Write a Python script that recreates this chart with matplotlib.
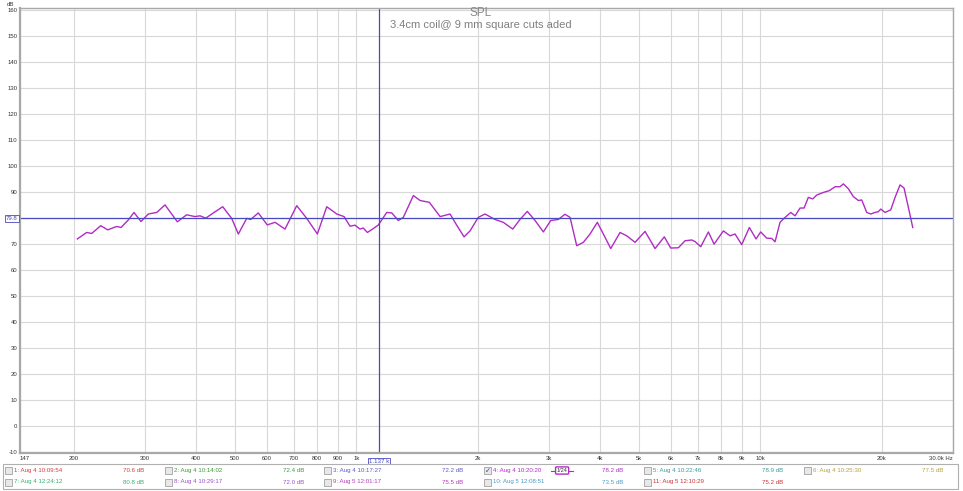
import matplotlib
matplotlib.use("Agg")
import matplotlib.pyplot as plt
from matplotlib.patches import Rectangle

# Datos: respuesta SPL
freq_hz = [203.8, 215, 221.2, 232.9, 242.3, 255.1, 261.5, 272.5, 281.5, 293.0,
           305.5, 320.5, 336, 360.5, 380.2, 398.6, 410.2, 423.8, 444.3, 466.9,
           491.4, 510.3, 535.3, 547.6, 571.8, 601.9, 629, 665.9, 711.9, 753.8,
           800.8, 844.8, 894.4, 932.4, 964.7, 992.4, 1021, 1040, 1065, 1102,
           1134, 1189, 1224, 1270, 1307, 1384, 1438, 1516, 1612, 1706,
           1772, 1848, 1912, 2004, 2082, 2204, 2311, 2439, 2542, 2650,
           2770, 2904, 3029, 3162, 3285, 3381, 3512, 3648, 3789, 3950,
           4088, 4264, 4496, 4671, 4898, 5185, 5489, 5787, 6001, 6268,
           6512, 6766, 6895, 7123, 7440, 7685, 8103, 8418, 8660, 8997,
           9396, 9761, 10025, 10375, 10675, 10879, 11192, 11405, 11897, 12194,
           12547, 12836, 13152, 13487, 13798, 14328, 14825, 15315, 15758, 16059,
           16524, 17000, 17491, 17833, 18348, 18771, 19240, 19602, 19876, 20368,
           21038, 21562, 22182, 22693, 23258, 23849]
spl_db = [71.9, 74.4, 74.0, 77.0, 75.4, 76.7, 76.3, 79.2, 82.1, 78.6,
          81.5, 82.1, 85.0, 78.5, 81.2, 80.5, 80.8, 79.9, 82.1, 84.3,
          79.8, 73.8, 79.8, 79.4, 81.9, 77.3, 78.3, 75.7, 84.7, 79.8,
          73.8, 84.3, 81.5, 80.5, 76.8, 77.2, 75.7, 76.1, 74.4, 75.9,
          77.3, 82.1, 81.9, 79.0, 80.2, 88.6, 86.7, 86.0, 80.5, 81.5,
          77.2, 72.7, 75.0, 80.2, 81.5, 79.4, 78.3, 75.7, 79.4, 82.5,
          79.0, 74.6, 79.0, 79.4, 81.4, 80.2, 69.3, 70.6, 73.8, 78.3,
          73.8, 68.2, 74.4, 73.1, 70.6, 74.8, 68.2, 72.7, 68.4, 68.5,
          71.2, 71.5, 70.9, 68.9, 74.6, 69.9, 75.0, 73.1, 73.8, 69.7,
          76.3, 71.9, 74.6, 72.2, 72.1, 70.8, 78.3, 79.6, 82.1, 80.8,
          83.8, 83.8, 87.9, 87.3, 88.8, 89.8, 90.5, 92.0, 92.0, 93.1,
          91.2, 88.2, 86.7, 86.9, 82.1, 81.5, 82.1, 82.4, 83.4, 82.1,
          83.1, 87.9, 92.7, 91.5, 84.1, 76.3]

cursor_freq = 1137
cursor_db = 79.8

x_ticks = [147, 200, 300, 400, 500, 600, 700, 800, 900, 1000,
           2000, 3000, 4000, 5000, 6000, 7000, 8000, 9000, 10000, 20000, 30000]
x_labels = ['147', '200', '300', '400', '500', '600', '700', '800', '900', '1k',
            '2k', '3k', '4k', '5k', '6k', '7k', '8k', '9k', '10k', '20k', '30.0k Hz']
y_ticks = list(range(-10, 161, 10))

# Leyenda de mediciones
leg_names = ['1: Aug 4 10:09:54', '2: Aug 4 10:14:02', '3: Aug 4 10:17:27',
             '4: Aug 4 10:20:20', '5: Aug 4 10:22:46', '6: Aug 4 10:25:30',
             '7: Aug 4 12:24:12', '8: Aug 4 10:29:17', '9: Aug 5 12:01:17',
             '10: Aug 5 12:08:51', '11: Aug 5 12:10:29']
leg_values = ['70.6 dB', '72.4 dB', '72.2 dB', '78.2 dB', '78.9 dB', '77.5 dB',
              '80.8 dB', '72.0 dB', '75.5 dB', '73.5 dB', '75.2 dB']
leg_colors = ['#d03c3c', '#3c9a3c', '#5a5ac8', '#b42cc8', '#3c9aa0', '#b8a040',
              '#30b070', '#9a50c8', '#b43cb4', '#4a9ac0', '#c83030']

plt.rcParams['font.family'] = ['Liberation Sans', 'DejaVu Sans']

W, H = 963, 491
fig = plt.figure(figsize=(W / 100, H / 100), dpi=100)
fig.patch.set_facecolor('white')
ax = fig.add_axes([20 / W, 38 / H, 933 / W, 445 / H])

ax.set_xscale('log')
ax.set_xlim(147, 30000)
ax.set_ylim(-10.5, 160.8)
ax.minorticks_off()

ax.set_xticks(x_ticks)
ax.set_xticklabels(x_labels, fontsize=4.3, color='#333333')
ax.set_yticks(y_ticks)
# la etiqueta 80 queda tapada por el cursor 79.8
ax.set_yticklabels(['' if v == 80 else str(v) for v in y_ticks], fontsize=4.3, color='#333333')
ax.tick_params(length=0, pad=2)
lbls = ax.get_xticklabels()
lbls[0].set_horizontalalignment('left')
lbls[-1].set_horizontalalignment('right')

ax.grid(True, color='#d8d8d8', linewidth=0.8)
ax.set_axisbelow(True)
for s in ax.spines.values():
    s.set_color('#a8a8a8')
    s.set_linewidth(1.0)
ax.spines['left'].set_linewidth(1.6)
ax.spines['bottom'].set_linewidth(1.6)

# Curva SPL
ax.plot(freq_hz, spl_db, color='#b02cc4', linewidth=1.0, solid_joinstyle='round')

# Cursores
ax.axhline(cursor_db, color='#4848c0', linewidth=0.9)
ax.axvline(cursor_freq, color='#4848c0', linewidth=0.9)
ax.text(-0.0025, cursor_db, f'{cursor_db}', transform=ax.get_yaxis_transform(),
        ha='right', va='center', fontsize=4.3, color='#4848c0',
        bbox=dict(boxstyle='square,pad=0.15', fc='white', ec='#4848c0', lw=0.6))
ax.text(cursor_freq, -0.013, '1.137 k', transform=ax.get_xaxis_transform(),
        ha='center', va='top', fontsize=4.4, color='#4848c0',
        bbox=dict(boxstyle='square,pad=0.15', fc='white', ec='#4848c0', lw=0.6))

# Títulos
fig.text(481 / W, 1 - 13 / H, 'SPL', ha='center', va='center', fontsize=8.5, color='#888888')
fig.text(481 / W, 1 - 25 / H, '3.4cm coil@ 9 mm square cuts aded', ha='center', va='center',
         fontsize=8, color='#808080')
fig.text(10 / W, 1 - 4 / H, 'dB', ha='center', va='center', fontsize=4.3, color='#333333')

# Panel de leyenda
fig.add_artist(Rectangle((3 / W, 1 - 489 / H), 955 / W, 25 / H, transform=fig.transFigure,
                         fc='white', ec='#b0b0b0', lw=0.8))
for i, name in enumerate(leg_names):
    row = i // 6
    col = i % 6
    x0 = 5 + 159.7 * col
    y0 = 470.5 + 11.5 * row
    fig.add_artist(Rectangle((x0 / W, 1 - (y0 + 3.5) / H), 7 / W, 7 / H,
                             transform=fig.transFigure, fc='#e8e8e8', ec='#909090', lw=0.5))
    if i == 3:
        fig.text((x0 + 3.5) / W, 1 - y0 / H, '\u2713', ha='center', va='center',
                 fontsize=5, color='#3040a0', family=['DejaVu Sans'])
        fig.add_artist(plt.Line2D([(x0 + 67) / W, (x0 + 89) / W], [1 - y0 / H, 1 - y0 / H],
                                  transform=fig.transFigure, color=leg_colors[i], lw=0.8))
        fig.text((x0 + 78) / W, 1 - y0 / H, '1/24', ha='center', va='center', fontsize=4,
                 color='#333333', zorder=5,
                 bbox=dict(boxstyle='round,pad=0.2', fc='white', ec=leg_colors[i], lw=1.0))
    fig.text((x0 + 9) / W, 1 - y0 / H, name, ha='left', va='center', fontsize=4.4,
             color=leg_colors[i])
    fig.text((x0 + 118) / W, 1 - y0 / H, leg_values[i], ha='left', va='center',
             fontsize=4.4, color=leg_colors[i])

fig.savefig('out.png', dpi=100)
